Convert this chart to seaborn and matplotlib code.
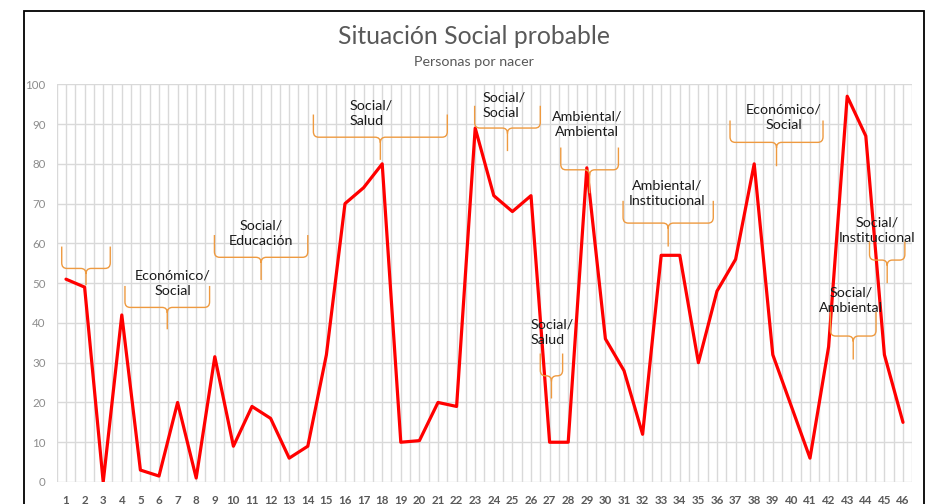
import matplotlib
matplotlib.use("Agg")
import matplotlib.pyplot as plt
from matplotlib.path import Path
from matplotlib.patches import PathPatch, Rectangle
import seaborn as sns
import pandas as pd
import numpy as np

# ---- data ----
categories = list(range(1, 47))
values = [51, 49, 0, 42, 3, 1.5, 20, 1, 31.5, 9,
          19, 16, 6, 9, 32, 70, 74, 80, 10, 10.4,
          20, 19, 89, 72, 68, 72, 10, 10, 79, 36,
          28, 12, 57, 57, 30, 48, 56, 80, 32, 19,
          6, 34, 97, 87, 32, 15]
title = "Situación Social probable"
subtitle = "Personas por nacer"
y_ticks = list(range(0, 101, 10))

# annotation labels (text lines) and brace layout
labels = ["", "Económico/\nSocial", "Social/\nEducación", "Social/\nSalud",
          "Social/\nSocial", "Ambiental/\nAmbiental", "Social/\nSalud",
          "Ambiental/\nInstitucional", "Económico/\nSocial", "Social/\nAmbiental",
          "Social/\nInstitucional"]
# (x0, x1, y_top, y_bar, y_tip, text_x, text_y_center, ha)
braces = [
    (0.77, 3.38, 59.2, 53.7, 49.5, 2.0, 60.0, "center"),
    (4.17, 8.72, 49.3, 43.9, 38.4, 6.73, 49.95, "center"),
    (8.98, 14.0, 62.1, 56.5, 50.8, 11.5, 62.55, "center"),
    (14.3, 21.5, 92.4, 86.7, 81.0, 16.25, 92.8, "left"),
    (22.97, 26.5, 94.6, 89.0, 83.2, 23.4, 94.8, "left"),
    (27.6, 30.7, 84.1, 78.5, 72.6, 29.0, 89.85, "center"),
    (26.5, 27.7, 32.3, 26.7, 21.0, 26.0, 37.75, "left"),
    (30.95, 35.8, 70.7, 65.1, 59.2, 33.3, 72.65, "center"),
    (36.7, 41.7, 90.9, 85.4, 79.4, 39.6, 91.6, "center"),
    (42.1, 44.55, 42.8, 36.7, 30.8, 43.2, 45.75, "center"),
    (44.2, 46.1, 60.5, 55.8, 50.0, 44.6, 63.4, "center"),
]

df = pd.DataFrame({"cat": categories, "val": values})

sns.set_theme(style="white")
plt.rcParams["font.family"] = ["Lato", "DejaVu Sans"]

W, H = 926, 504
fig = plt.figure(figsize=(W / 100, H / 100), dpi=100)
ax = fig.add_axes([56.7 / W, 1 - 482 / H, (912.3 - 56.7) / W, (482 - 84.3) / H])

grid_c = "#D9D9D9"
for xv in np.arange(0.5, 46.6, 0.5):
    ax.axvline(xv, color=grid_c, lw=1.0, zorder=0)
for yv in y_ticks:
    ax.axhline(yv, color=grid_c, lw=1.0, zorder=0)

sns.lineplot(data=df, x="cat", y="val", ax=ax, color="#FF0000", lw=2.3, zorder=3)

ax.set_xlim(0.5, 46.5)
ax.set_ylim(0, 100)
ax.set_xticks(categories)
ax.set_xticklabels([str(c) for c in categories], fontsize=8.3, color="#595959", fontweight="bold")
ax.set_yticks(y_ticks)
ax.set_yticklabels([str(v) for v in y_ticks], fontsize=8.3, color="#8C8C8C")
ax.tick_params(axis="x", length=0, pad=9)
ax.tick_params(axis="y", length=0, pad=8)
ax.set_xlabel("")
ax.set_ylabel("")
for s in ax.spines.values():
    s.set_visible(False)

brace_c = "#EE9A40"
rx = 0.28
ry = 1.4
for (x0, x1, yt, yb, ytip, tx, ty, ha), lab in zip(braces, labels):
    xc = (x0 + x1) / 2
    verts = [
        (x0, yt), (x0, yb + ry), (x0, yb), (x0 + rx, yb),
        (xc - rx, yb), (xc, yb), (xc, yb - ry), (xc, ytip),
    ]
    codes = [Path.MOVETO, Path.LINETO, Path.CURVE3, Path.CURVE3,
             Path.LINETO, Path.CURVE3, Path.CURVE3, Path.LINETO]
    verts2 = [
        (x1, yt), (x1, yb + ry), (x1, yb), (x1 - rx, yb),
        (xc + rx, yb), (xc, yb), (xc, yb - ry),
    ]
    codes2 = [Path.MOVETO, Path.LINETO, Path.CURVE3, Path.CURVE3,
              Path.LINETO, Path.CURVE3, Path.CURVE3]
    p = Path(verts + verts2, codes + codes2)
    ax.add_patch(PathPatch(p, facecolor="none", edgecolor=brace_c, lw=1.0, zorder=4))
    if lab:
        ax.text(tx, ty, lab, ha=ha, va="center", multialignment=ha, fontsize=10.3,
                color="#1A1A1A", linespacing=1.35, zorder=5)

fig.text(473.5 / W, 1 - 37 / H, title, ha="center", va="center", fontsize=17.8, color="#595959")
fig.text(473.5 / W, 1 - 62 / H, subtitle, ha="center", va="center", fontsize=10.3, color="#595959")

fig.patches.append(Rectangle((24 / W, -0.02), (924 - 24) / W, 1 - 10.7 / H + 0.02,
                             transform=fig.transFigure, fill=False, edgecolor="black",
                             lw=1.3, zorder=10))

fig.savefig("out.png", dpi=100)
